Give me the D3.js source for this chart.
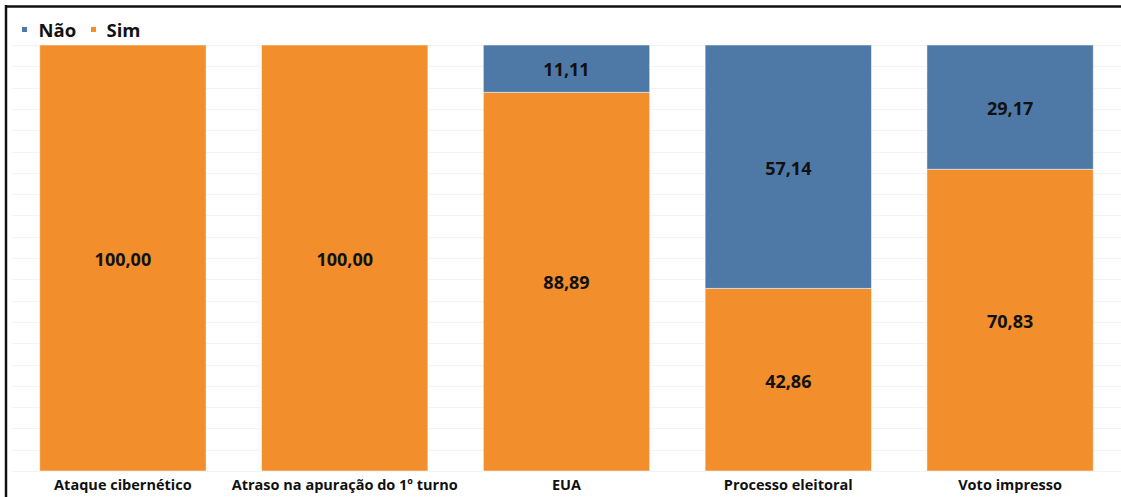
<!DOCTYPE html>
<html>
<head>
<meta charset="utf-8">
<script src="https://cdn.jsdelivr.net/npm/d3@7"></script>
<style>
  html, body { margin: 0; padding: 0; background: #fff; }
  svg { display: block; }
  text { font-family: "Open Sans", "Noto Sans", sans-serif; font-weight: 700; fill: #111; }
</style>
</head>
<body>
<svg id="chart" width="1121" height="497"></svg>
<script>
// Share of answers per topic (percent)
const categories = ["Ataque cibernético", "Atraso na apuração do 1º turno", "EUA", "Processo eleitoral", "Voto impresso"];
const seriesNames = ["Não", "Sim"];
const naoValues = [0, 0, 11.11, 57.14, 29.17];
const simValues = [100, 100, 88.89, 42.86, 70.83];
const gridTicks = d3.range(0, 101, 5);

const colors = { "Não": "#4e79a7", "Sim": "#f28e2b" };

const W = 1121, H = 497;
const plot = { left: 12, right: 1121, top: 45, bottom: 471 };

const svg = d3.select("#chart");

const rows = categories.map((c, i) => ({ category: c, "Não": naoValues[i], "Sim": simValues[i] }));

const x = d3.scaleBand()
  .domain(categories)
  .range([plot.left, plot.right])
  .paddingInner(0.25)
  .paddingOuter(0.125);

const y = d3.scaleLinear().domain([0, 100]).range([plot.bottom, plot.top]);

// light horizontal gridlines every 5%
svg.append("g")
  .selectAll("line")
  .data(gridTicks)
  .join("line")
  .attr("x1", plot.left)
  .attr("x2", plot.right)
  .attr("y1", d => Math.round(y(d)) + 0.5)
  .attr("y2", d => Math.round(y(d)) + 0.5)
  .attr("stroke", "#f3f3f3")
  .attr("stroke-width", 1);

// stacked bars: Sim at the bottom, Não on top
const stack = d3.stack().keys(["Sim", "Não"]);
const layers = stack(rows);

const layerG = svg.append("g")
  .selectAll("g")
  .data(layers)
  .join("g")
  .attr("fill", d => colors[d.key]);

layerG.selectAll("rect")
  .data(d => d.map(p => ({ key: d.key, p })))
  .join("rect")
  .attr("x", d => x(d.p.data.category))
  .attr("width", x.bandwidth())
  .attr("y", d => y(d.p[1]))
  .attr("height", d => y(d.p[0]) - y(d.p[1]))
  .attr("stroke", "rgba(255,255,255,0.5)")
  .attr("stroke-width", 1);

// value labels centred in each segment
layerG.selectAll("text")
  .data(d => d.map(p => ({ key: d.key, p })).filter(d => d.p.data[d.key] > 0))
  .join("text")
  .attr("x", d => x(d.p.data.category) + x.bandwidth() / 2)
  .attr("y", d => (y(d.p[0]) + y(d.p[1])) / 2 + 1.5)
  .attr("dy", "0.35em")
  .attr("text-anchor", "middle")
  .attr("font-size", 18)
  .text(d => d3.format(".2f")(d.p.data[d.key]).replace(".", ","));

// category axis labels
const xAxis = d3.axisBottom(x).tickSize(0).tickPadding(9);
const axisG = svg.append("g")
  .attr("transform", `translate(0,${plot.bottom})`)
  .call(xAxis);
axisG.select(".domain").remove();
axisG.selectAll("text")
  .attr("font-size", 14.5)
  .attr("font-family", "'Open Sans', 'Noto Sans', sans-serif")
  .attr("font-weight", 700)
  .attr("fill", "#111");

// legend
const legend = svg.append("g");
const legendItems = [
  { name: seriesNames[0], sx: 22, tx: 38.5 },
  { name: seriesNames[1], sx: 91, tx: 106.5 }
];
legend.selectAll("rect")
  .data(legendItems)
  .join("rect")
  .attr("x", d => d.sx)
  .attr("y", 27)
  .attr("width", 5)
  .attr("height", 5)
  .attr("fill", d => colors[d.name]);
legend.selectAll("text")
  .data(legendItems)
  .join("text")
  .attr("x", d => d.tx)
  .attr("y", 36.5)
  .attr("font-size", 18.5)
  .text(d => d.name);

// frame lines along the top and left edges
svg.append("line")
  .attr("x1", 5).attr("x2", W)
  .attr("y1", 6.5).attr("y2", 6.5)
  .attr("stroke", "#111").attr("stroke-width", 2.5);
svg.append("line")
  .attr("x1", 6).attr("x2", 6)
  .attr("y1", 5).attr("y2", H)
  .attr("stroke", "#111").attr("stroke-width", 2.5);
</script>
</body>
</html>
